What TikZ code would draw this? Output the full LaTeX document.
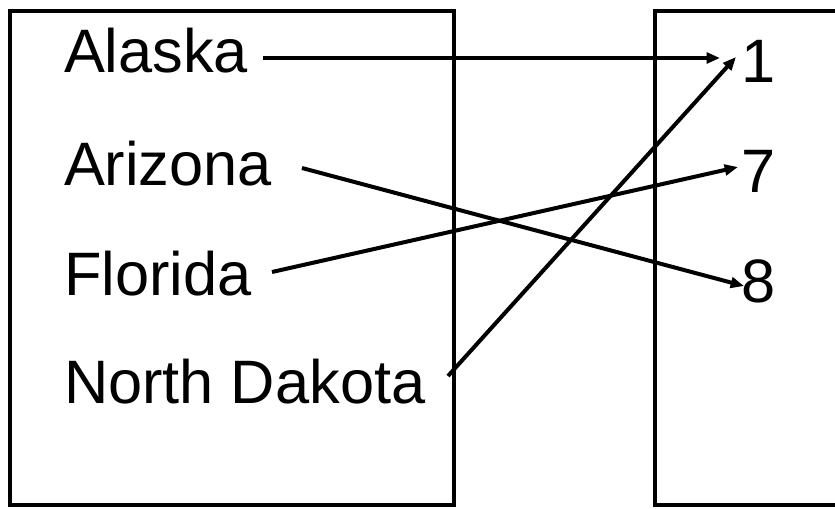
\documentclass[tikz,border=0pt]{standalone}
\usepackage{fontspec}
\setmainfont{Liberation Sans}
\usetikzlibrary{arrows.meta}
\begin{document}
\begin{tikzpicture}[x=0.75pt,y=-0.75pt,
  setbox/.style={line width=3.5pt,line join=miter},
  lbl/.style={anchor=base west,inner sep=0pt,outer sep=0pt,font=\fontsize{46}{55}\selectfont},
  maparrow/.style={line width=3pt,-{Triangle[length=10pt,width=8pt]}}]
\useasboundingbox (0,0) rectangle (835,508);
% domain box
\draw[setbox] (10,11) rectangle (454,505);
% range box (open to the right, cut by the page)
\draw[setbox] (850,11) -- (655,11) -- (655,505) -- (850,505);
% labels
\node[lbl] (alaska) at (64,72) {Alaska};
\node[lbl] (arizona) at (64,185) {Arizona};
\node[lbl] (florida) at (64,295) {Florida};
\node[lbl] (nd) at (64,403) {North Dakota};
\node[lbl] (one) at (741,82) {1};
\node[lbl] (seven) at (741,192) {7};
\node[lbl] (eight) at (741,302) {8};
% arrow ends
\coordinate (sAl) at (263,58);
\coordinate (eAl) at (720,58);
\coordinate (sAz) at (302,168);
\coordinate (eAz) at (744,286);
\coordinate (sFl) at (272,272);
\coordinate (eFl) at (738,167);
\coordinate (sNd) at (448,376);
\coordinate (eNd) at (736,57);
\draw[maparrow] (sAl) -- (eAl);
\draw[maparrow] (sAz) -- (eAz);
\draw[maparrow] (sFl) -- (eFl);
\draw[maparrow] (sNd) -- (eNd);
\end{tikzpicture}
\end{document}
